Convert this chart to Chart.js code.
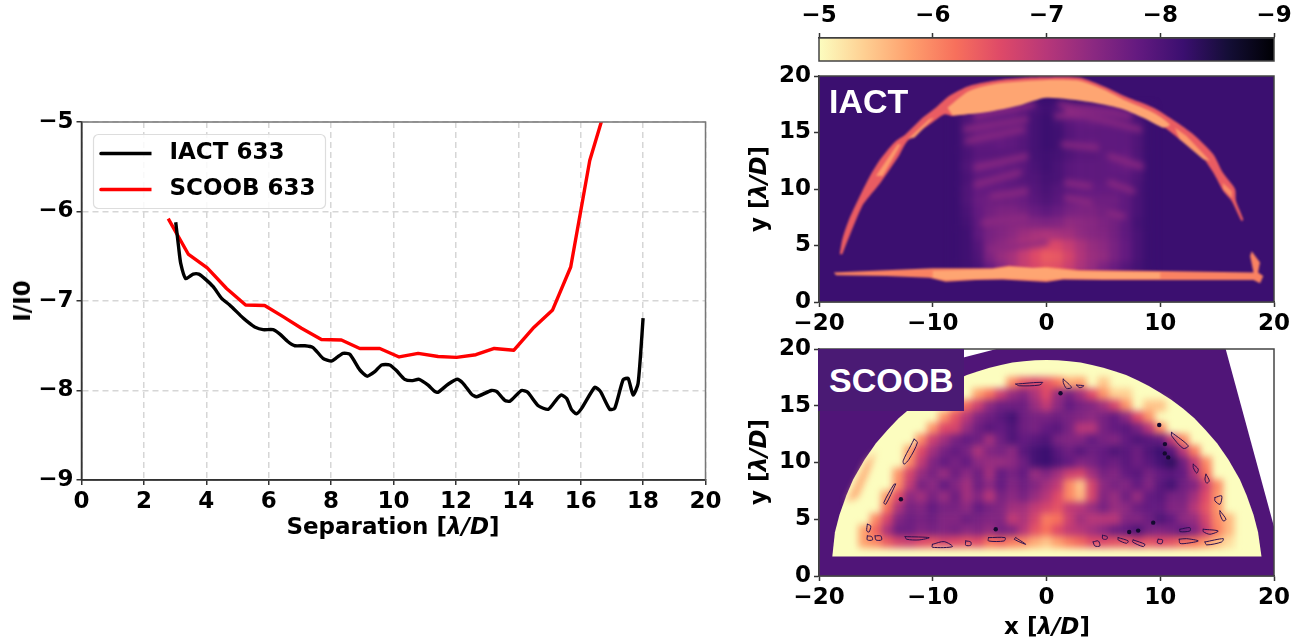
<!DOCTYPE html>
<html><head><meta charset="utf-8">
<script src="https://cdn.jsdelivr.net/npm/chart.js@4/dist/chart.umd.min.js"></script>
<style>
html,body{margin:0;padding:0;background:#fff;width:1308px;height:642px;overflow:hidden}
canvas{position:absolute;left:0;top:0}
.t{position:absolute;font:bold 23px "DejaVu Sans";color:#000;white-space:nowrap;transform:translate(-50%,-50%)}
.r{transform:translate(-50%,-50%) rotate(-90deg)}
.t i{font-style:italic}
.tag{position:absolute;font:bold 34px "Liberation Sans";color:#fff;line-height:1;white-space:nowrap}
</style></head><body>
<canvas id="c1" width="1308" height="642"></canvas>
<canvas id="c2" width="1308" height="642"></canvas>
<canvas id="c3" width="1308" height="642"></canvas>
<canvas id="c3glow" width="1308" height="642" style="filter:blur(3.4px)"></canvas>
<canvas id="c3arc" width="1308" height="642" style="filter:blur(.9px)"></canvas>
<canvas id="c4" width="1308" height="642"></canvas>
<canvas id="c4glow" width="1308" height="642" style="filter:blur(3.6px)"></canvas>
<canvas id="c4line" width="1308" height="642" style="filter:blur(.35px)"></canvas>
<div class="t" style="left:393px;top:526px">Separation [<i>λ/D</i>]</div>
<div class="t r" style="left:22px;top:301px">I/I0</div>
<div class="t r" style="left:758px;top:189px">y [<i>λ/D</i>]</div>
<div class="t r" style="left:758px;top:462px">y [<i>λ/D</i>]</div>
<div class="t" style="left:1047px;top:626px">x [<i>λ/D</i>]</div>
<div style="position:absolute;left:818px;top:349px;width:146px;height:62px;background:#4a1a74"></div>
<div class="tag" style="left:829px;top:84px">IACT</div>
<div class="tag" style="left:829px;top:363px">SCOOB</div>
<script>
// ---------- line chart values ----------
const iactX=[3.02,3.11,3.18,3.34,3.58,3.76,3.95,4.22,4.49,4.75,5.18,5.39,5.55,5.82,6.14,6.36,6.62,6.84,7.16,7.42,7.74,8.01,8.19,8.38,8.6,8.92,9.15,9.4,9.62,9.88,10.1,10.36,10.58,10.82,11.11,11.32,11.43,11.75,12.04,12.23,12.5,12.66,13.14,13.3,13.57,13.73,14.1,14.3,14.64,14.96,15.25,15.38,15.55,15.7,15.86,16.03,16.45,16.63,16.93,17.09,17.36,17.52,17.68,17.84,18.0];
const iactY=[-6.12,-6.39,-6.58,-6.75,-6.70,-6.70,-6.75,-6.84,-6.97,-7.045,-7.19,-7.25,-7.29,-7.32,-7.32,-7.37,-7.455,-7.50,-7.50,-7.52,-7.64,-7.67,-7.63,-7.585,-7.595,-7.77,-7.84,-7.79,-7.715,-7.715,-7.78,-7.875,-7.89,-7.875,-7.94,-8.01,-8.02,-7.93,-7.875,-7.92,-8.04,-8.07,-8.0,-8.01,-8.11,-8.12,-8.0,-8.02,-8.17,-8.21,-8.09,-8.05,-8.09,-8.21,-8.26,-8.2,-7.965,-8.01,-8.21,-8.2,-7.88,-7.865,-8.05,-7.92,-7.19];
const scoobX=[2.78,3.42,4.03,4.65,5.26,5.87,6.46,7.05,7.69,8.33,8.92,9.56,10.18,10.79,11.43,12.02,12.64,13.23,13.86,14.47,15.1,15.68,16.29,16.9];
const scoobY=[-6.08,-6.475,-6.63,-6.86,-7.045,-7.05,-7.175,-7.305,-7.43,-7.435,-7.53,-7.53,-7.625,-7.585,-7.62,-7.63,-7.60,-7.53,-7.55,-7.305,-7.10,-6.62,-5.43,-4.72];
const sepTicks=[0,2,4,6,8,10,12,14,16,18,20];
const contrastTicks=[-9,-8,-7,-6,-5];
const panelXTicks=[-20,-10,0,10,20];
const panelYTicks=[0,5,10,15,20];
const barRange=[-9,-5];
const barTicks=[-5,-6,-7,-8,-9];

// ---------- colour scale ----------
const magma=['#000004','#140e36','#3b0f70','#641a80','#8c2981','#b73779','#de4968','#f7705c','#fe9f6d','#fecf92','#fcfdbf'];
function hex(s){return [1,3,5].map(i=>parseInt(s.substr(i,2),16));}
function col(v){
  let t=Math.max(0,Math.min(1,(v+9)/4))*10,i=Math.min(9,Math.floor(t)),f=t-i,a=hex(magma[i]),b=hex(magma[i+1]);
  return 'rgb('+a.map((c,k)=>Math.round(c+(b[k]-c)*f)).join(',')+')';
}

// ---------- IACT image values ----------
const iactCols=[-8,-7,-6,-5,-4,-3,-2,-1,0,1,2,3,4,5,6,7,8,9];
const iactRows=[17,16,15,14,13,12,11,10,9,8,7,6,5,4,3];
const iactGrid=[
[-8.2,-8.0,-7.85,-7.8,-7.8,-7.8,-7.9,-8.05,-8.15,-8.05,-7.9,-7.8,-7.8,-7.8,-7.8,-7.9,-8.05,-8.2],
[-8.2,-8.0,-7.85,-7.85,-7.85,-7.85,-7.95,-8.1,-8.2,-8.1,-7.9,-7.8,-7.75,-7.8,-7.85,-7.9,-8.05,-8.2],
[-8.2,-8.0,-7.8,-7.8,-7.85,-7.85,-7.9,-8.1,-8.2,-8.15,-7.95,-7.85,-7.85,-7.85,-7.85,-7.85,-8.0,-8.2],
[-8.2,-8.0,-7.85,-7.85,-7.8,-7.85,-7.95,-8.1,-8.2,-8.15,-7.95,-7.85,-7.8,-7.85,-7.85,-7.85,-8.0,-8.2],
[-8.2,-8.05,-7.9,-7.9,-7.9,-7.9,-7.95,-8.1,-8.15,-8.1,-8.0,-7.9,-7.9,-7.85,-7.85,-7.8,-8.0,-8.2],
[-8.2,-8.0,-7.8,-7.8,-7.8,-7.85,-7.9,-8.05,-8.15,-8.05,-7.9,-7.85,-7.85,-7.85,-7.8,-7.75,-7.9,-8.2],
[-8.2,-8.05,-7.85,-7.85,-7.85,-7.85,-7.95,-8.0,-8.1,-8.05,-7.9,-7.85,-7.85,-7.85,-7.85,-7.85,-8.0,-8.2],
[-8.2,-8.0,-7.8,-7.8,-7.8,-7.85,-7.85,-7.95,-8.05,-7.95,-7.85,-7.8,-7.8,-7.8,-7.8,-7.85,-8.05,-8.2],
[-8.2,-8.0,-7.75,-7.7,-7.7,-7.7,-7.75,-7.9,-8.0,-7.9,-7.75,-7.7,-7.7,-7.7,-7.7,-7.85,-8.05,-8.2],
[-8.2,-8.05,-7.8,-7.65,-7.55,-7.55,-7.65,-7.75,-7.85,-7.75,-7.6,-7.55,-7.55,-7.65,-7.75,-7.85,-8.05,-8.2],
[-8.2,-8.1,-7.85,-7.55,-7.5,-7.45,-7.45,-7.5,-7.55,-7.5,-7.35,-7.4,-7.45,-7.55,-7.65,-7.85,-8.1,-8.2],
[-8.2,-8.15,-7.85,-7.6,-7.5,-7.4,-7.25,-7.15,-7.1,-7.15,-7.2,-7.35,-7.45,-7.5,-7.65,-7.85,-8.05,-8.2],
[-8.2,-8.15,-7.95,-7.55,-7.4,-7.25,-7.0,-6.75,-6.6,-6.65,-6.85,-7.1,-7.3,-7.4,-7.6,-7.8,-8.05,-8.2],
[-8.2,-8.15,-8.0,-7.55,-7.3,-7.15,-6.85,-6.6,-6.4,-6.45,-6.7,-7.05,-7.25,-7.35,-7.6,-7.8,-8.05,-8.2],
[-8.2,-8.15,-8.05,-7.75,-7.45,-7.15,-6.85,-6.65,-6.5,-6.55,-6.8,-7.1,-7.3,-7.55,-7.75,-7.95,-8.1,-8.2]];
const iactBackground=-8.2;
const iactFringes=[
[[-6.2,16.46],[-1.2,17.5]],[[-7.1,15.28],[-1.8,16.16]],[[-6.95,14.25],[-2.1,15.28]],[[-6.2,11.9],[-1.8,12.9]],
[[-6.2,10.4],[-2.4,11.45]],[[-4.75,9.38],[-1.8,9.82]],[[-5.6,7],[-1.8,7.6]],[[-5,4.66],[0,5.25]],
[[1.2,17.5],[7.3,16.46]],[[1.76,16.9],[8.2,15.28]],[[0.9,16.46],[3.2,16.46]],[[1.47,13.95],[4.4,13.66]],
[[5.57,12.9],[8.36,12]],[[5.57,10.56],[7.6,9.82]],[[1.76,10.56],[3.8,10.27]],[[1.76,9.23],[3.8,8.8]],[[5.57,7.9],[6.74,7.6]]];
const iactArc=[[-18.18,4.22],[-17.95,5.55],[-17.36,7.3],[-16.33,9.53],[-15.6,11],[-14.72,12.48],[-13.4,14.1],[-12.38,14.84],[-10.9,16.3],[-9.74,17.2],[-8.56,18.23],[-6.8,19.12],[-4.16,19.65],[-1.82,19.85],[0.06,19.9],[2.93,19.85],[5,19.1],[7,18.17],[9.4,17.2],[11.3,16],[12.9,14.84],[14.66,13.07],[15.5,11.45],[16.57,10],[16.66,8.94],[17.3,7.3],[17.15,7.17],[16.28,8.94],[15.54,9.82],[14.66,11.45],[13.5,13.07],[11.73,14.4],[10.4,15.43],[8.5,16.46],[6.45,17.35],[3.8,17.85],[0,18.17],[-2.4,17.5],[-5.34,16.9],[-8.27,16.46],[-9,16.6],[-10.3,15.7],[-12.23,14.25],[-13,12.9],[-14.6,10.56],[-15.3,9.68],[-16.2,8.5],[-17.2,6.14],[-17.95,4.22]];
const iactArcTop=[[-8.7,17.2],[-6.8,18.67],[-4.16,19.35],[0.06,19.65],[2.93,19.56],[5,18.8],[7,17.8],[9.4,16.75],[10.85,15.7],[10.26,15.43],[8.5,16.3],[6.45,17.14],[3.8,17.7],[0,18.08],[-2.4,17.4],[-5.34,16.8],[-8.27,16.5]];
const iactArcLeftA=[[-12.2,14.4],[-10.3,16.2],[-9.9,16.3],[-11.6,14.55]];
const iactArcLeftB=[[-15,11.15],[-13.1,13.95],[-12.8,13.95],[-14.4,11.15]];
const iactArcRightA=[[11.3,15.43],[12.3,14.7],[14.37,12.5],[13.8,12.6],[11.7,14.4]];
const iactArcRightB=[[15.5,10.56],[16.3,9.8],[16.3,9.2],[15.5,10]];
const iactStrip=[[-18.7,2.6],[-14.1,2.8],[-10,2.98],[-4.75,2.98],[-3.3,3.2],[-1.2,3.04],[0,3.13],[2.9,2.83],[10,2.74],[18.2,2.6],[17.9,4.07],[18.04,4.5],[18.77,3.5],[18.6,2.6],[19.06,2.3],[18.77,1.65],[18.2,1.95],[10,1.95],[5,1.95],[1.47,2],[0,1.77],[-3.87,2],[-6.2,1.95],[-8.86,1.8],[-10.3,2.15],[-14.1,2.3],[-18.5,2.36]];
const iactStripCore=[[-10,2.75],[-4.75,2.9],[-3.3,3.1],[-1.2,3],[0,3],[2.9,2.7],[10,2.6],[10,2.05],[5,2.05],[1.47,2.1],[0,1.95],[-3.87,2.1],[-6.2,2.05],[-8.86,1.95],[-10,2.15]];

// ---------- SCOOB image values ----------
const _=null;
const scoobCols=[-16,-15,-14,-13,-12,-11,-10,-9,-8,-7,-6,-5,-4,-3,-2,-1,0,1,2,3,4,5,6,7,8,9,10,11,12,13,14,15,16];
const scoobRows=[17,16,15,14,13,12,11,10,9,8,7,6,5,4,3];
const scoobGrid=[
[_,_,_,_,_,_,_,_,_,_,_,_,_,-6.0,-6.5,-6.7,-6.5,-6.2,-5.7,-5.8,_,-5.5,_,_,_,_,_,_,_,_,_,_,_],
[_,_,_,_,_,_,_,_,_,_,-5.8,-6.2,-6.8,-7.3,-7.5,-7.1,-6.6,-7.3,-7.6,-7.2,-6.6,-5.9,-5.4,-5.4,_,_,_,_,_,_,_,_,_],
[_,_,_,_,_,_,_,_,-5.8,-6.3,-6.8,-7.4,-7.7,-7.7,-7.7,-7.3,-6.9,-7.4,-7.8,-7.6,-7.5,-7.2,-6.7,-5.9,_,-5.5,-5.5,_,_,_,_,_,_],
[_,_,_,_,_,_,_,-5.9,-6.5,-7.0,-7.5,-7.7,-7.9,-8.1,-7.7,-7.6,-7.6,-7.7,-7.6,-7.5,-7.4,-7.6,-7.8,-7.4,-6.6,-5.9,_,_,_,_,_,_,_],
[_,_,_,_,_,_,-5.9,-6.6,-6.7,-7.3,-7.7,-7.9,-7.8,-8.0,-7.7,-7.6,-7.8,-7.9,-7.6,-7.0,-7.0,-7.6,-7.8,-7.9,-7.6,-7.0,-6.0,_,_,_,_,_,_],
[_,_,_,_,_,-6.0,-6.8,-7.2,-7.6,-7.8,-7.7,-7.2,-7.7,-8.0,-7.8,-7.9,-8.0,-7.6,-7.5,-7.5,-7.8,-7.6,-7.5,-7.8,-8.0,-7.9,-7.8,-6.9,-6.0,_,_,_,_],
[_,_,_,_,-5.8,-6.6,-7.2,-7.6,-7.8,-7.6,-7.1,-7.5,-7.6,-7.4,-7.9,-8.1,-8.2,-7.9,-7.7,-7.9,-7.7,-7.8,-8.0,-7.9,-7.7,-8.0,-8.2,-7.9,-7.0,-6.1,_,_,_],
[_,_,_,_,-6.0,-6.9,-7.5,-7.8,-7.6,-7.8,-7.4,-7.3,-7.3,-7.4,-7.7,-8.1,-8.2,-8.0,-7.8,-7.5,-7.6,-7.8,-7.7,-7.9,-7.7,-7.9,-8.1,-8.3,-7.7,-6.9,-6.0,_,_],
[_,_,_,-5.9,-6.7,-7.3,-7.6,-7.3,-7.7,-7.4,-7.7,-7.2,-7.8,-7.6,-7.8,-7.3,-7.5,-7.2,-6.8,-6.7,-7.2,-7.6,-7.5,-7.8,-7.9,-7.6,-7.8,-7.9,-7.8,-7.1,-6.2,_,_],
[_,_,_,-6.0,-6.9,-7.6,-7.4,-7.8,-7.5,-7.2,-7.7,-7.4,-7.8,-7.5,-7.7,-7.5,-7.2,-6.9,-6.0,-5.5,-6.7,-7.4,-7.6,-7.5,-7.8,-7.5,-7.9,-8.1,-7.7,-7.5,-6.8,-6.0,_],
[_,_,-5.9,-6.6,-7.4,-7.2,-7.6,-7.3,-7.7,-7.2,-7.5,-7.0,-7.6,-7.4,-7.6,-7.3,-7.0,-6.6,-6.0,-5.6,-6.7,-7.5,-7.3,-7.7,-7.3,-7.8,-7.9,-7.6,-7.6,-7.2,-6.6,-5.9,_],
[_,_,-6.2,-7.1,-7.6,-7.5,-7.8,-7.6,-7.6,-7.4,-7.8,-7.6,-7.5,-7.2,-7.2,-6.9,-6.7,-6.5,-6.9,-7.0,-7.3,-7.6,-7.3,-7.4,-7.7,-7.8,-7.8,-7.5,-7.5,-7.0,-6.5,-5.9,_],
[_,-6.0,-6.7,-7.5,-7.7,-7.6,-7.7,-7.5,-7.5,-7.7,-7.6,-7.5,-7.5,-6.9,-7.1,-6.7,-6.1,-6.2,-6.8,-7.2,-7.0,-7.0,-7.0,-7.5,-7.5,-7.7,-8.0,-7.8,-7.4,-7.3,-6.7,-6.0,-5.6],
[-5.8,-6.3,-7.1,-7.7,-7.7,-7.5,-7.6,-7.5,-7.6,-7.4,-7.5,-7.3,-7.6,-7.5,-7.0,-6.5,-6.2,-6.6,-6.9,-7.0,-7.2,-7.4,-7.7,-7.8,-8.0,-7.6,-7.5,-7.6,-7.8,-7.5,-6.9,-6.1,-5.6],
[-5.8,-6.0,-6.4,-6.7,-6.8,-6.6,-6.5,-6.7,-6.6,-6.5,-6.6,-6.2,-6.3,-6.1,-6.0,-5.7,-5.5,-5.8,-6.1,-6.3,-6.6,-6.6,-6.5,-6.5,-6.7,-6.5,-6.6,-6.5,-6.3,-6.2,-5.9,-5.6,-5.3]];
const scoobBackground=-8.0;
const scoobSaturated=-5.0;
const scoobDome=[[-18.83,1.72],[-18.6,3.85],[-18.2,5.4],[-17.6,7.1],[-17,8.5],[-16,10.25],[-15,11.7],[-14,12.85],[-13,13.9],[-12,14.75],[-11,15.5],[-10,16.15],[-9,16.75],[-8,17.25],[-7,17.7],[-6,18.05],[-5,18.35],[-4,18.6],[-3,18.8],[-2,18.93],[-1,19],[0,19.03],[1,19],[2,18.93],[3,18.8],[4,18.6],[5,18.35],[6,18.05],[7,17.7],[8,17.25],[9,16.75],[10,16.15],[11,15.5],[12,14.75],[13,13.9],[14,12.85],[15,11.7],[16,10.25],[17,8.5],[17.6,7.1],[18.2,5.4],[18.6,3.85],[18.9,1.72]];
const scoobWedgeRight=[[15.75,20],[20,4.35],[20,20]];
const scoobWedgeTop=[[-4.4,20],[-7.3,19.25],[-7.3,20]];
const scoobStreak=[[-17.6,6.5],[-16.6,6.9],[-15.6,9.2],[-15.0,11],[-15.9,10]];
const scoobContours=[
[[-11.64,12.06],[-11.35,11.76],[-12.08,10.29],[-12.52,9.85],[-12.6,10.15],[-11.94,11.47]],
[[-13.26,8.09],[-14.13,6.32],[-14.3,6.47],[-13.4,8.09]],
[[-15.75,4.56],[-15.45,4.41],[-15.6,3.88],[-15.8,3.97]],
[[-15.75,3.53],[-15.37,3.47],[-15.3,3.18],[-15.75,3.18]],
[[-15.07,3.53],[-14.57,3.53],[-14.5,3.18],[-15,3.18]],
[[-12.43,3.47],[-10.32,3.38],[-11.2,3.18],[-12.3,3.24]],
[[-10.03,2.79],[-9,3.03],[-8.27,2.59],[-10.03,2.53]],
[[-7.1,3.09],[-6.66,3],[-6.66,2.71],[-7.1,2.71]],
[[-5.1,3.38],[-3.64,3.38],[-3.72,3.09],[-5.1,3.09]],
[[-2.7,3.38],[-1.82,2.79],[-2.84,3.24]],
[[-2.7,16.91],[-0.35,17.06],[-0.65,16.82],[-2.4,16.76]],
[[11,12.65],[12.46,11.47],[12.02,11.24],[11,12.35]],
[[12.9,9.85],[13.34,9.41],[13.2,9.06],[12.9,9.56]],
[[14.02,8.97],[14.31,8.38],[14.08,8.18],[13.93,8.53]],
[[14.81,6.91],[15.4,7.06],[15.25,6.32],[14.81,6.62]],
[[15.25,5.74],[15.78,5],[15.54,4.85],[15.25,5.44]],
[[11.73,4.12],[12.61,4.26],[12.61,3.97],[11.73,3.91]],
[[13.78,4.12],[15.1,3.97],[14.37,3.68],[13.78,3.91]],
[[13.93,3],[15.54,3.29],[15.4,3],[14.08,2.74]],
[[11.67,3.24],[12.32,3.29],[13.34,3.09],[12.32,2.88],[11.73,2.88]],
[[9.82,3.24],[10.2,3.18],[10.12,2.85],[9.74,2.94]],
[[7.62,3.18],[8.65,2.79],[8.5,2.59],[7.57,3]],
[[6.3,3.38],[7.18,3.09],[7.04,2.88],[6.3,3.18]],
[[4.1,3],[4.55,3.09],[4.69,2.65],[4.25,2.65]],
[[4.93,3.59],[5.34,3.47],[5.28,3.24],[4.93,3.29]],
[[1.47,17.35],[2.2,16.62],[1.76,16.53],[1.47,17.06]],
[[2.64,16.82],[3.28,16.76],[2.93,16.59]]];
const scoobDarkX=[10.41,10.4,10.7,9.38,8.06,7.27,1.23,9.91,-4.46,-12.8];
const scoobDarkY=[11.62,10.8,10.45,4.7,4.0,3.88,16.1,13.3,4.12,6.76];

// ---------- helpers ----------
const W=1308,H=642;
const toPts=a=>a.map(p=>({x:p[0],y:p[1]}));
function cells(cols,rows,grid){
  const out=[];
  rows.forEach((y,r)=>cols.forEach((x,c)=>{if(grid[r][c]!==null)out.push({x,y,v:grid[r][c]});}));
  return out;
}
function poly(pts,color,curve){
  return {data:toPts(pts),showLine:true,fill:'shape',backgroundColor:color,borderColor:color,borderWidth:0,pointRadius:0,tension:curve||0};
}
function stroke(pts,color,width,closed){
  return {data:toPts(closed?pts.concat([pts[0]]):pts),showLine:true,fill:false,borderColor:color,borderWidth:width,borderCapStyle:'round',borderJoinStyle:'round',pointRadius:0,tension:closed?0.3:0};
}
const tickFont={family:'"DejaVu Sans"',size:23,weight:'bold'};
const minus=v=>String(v).replace('-','\u2212');
function axis(ticks,min,max,fixed,extra){
  return Object.assign({type:'linear',min,max,
    afterBuildTicks:s=>{s.ticks=ticks.map(value=>({value}));},
    afterFit:fixed,
    ticks:{font:tickFont,color:'#000',padding:3,maxRotation:0,autoSkip:false,callback:minus},
    border:{color:'#333',width:1.5},
    grid:{drawOnChartArea:false,tickLength:5,tickColor:'#333',tickWidth:1.5}},extra||{});
}
function frame(color){
  return {id:'frame',afterDraw(c){const a=c.chartArea,x=c.ctx;x.save();x.strokeStyle=color;x.lineWidth=1.5;x.strokeRect(a.left,a.top,a.width,a.height);x.restore();}};
}
Chart.defaults.animation=false;Chart.defaults.responsive=false;Chart.defaults.devicePixelRatio=1;
const quiet={legend:{display:false},tooltip:{enabled:false}};
function ordered(layers){layers.forEach((d,i)=>{d.order=layers.length-i;});return layers;}

function panel(id,box,bgValue,layers){
  const [l,t,r,b]=box;
  return new Chart(document.getElementById(id),{type:'scatter',
    data:{datasets:ordered(layers)},
    options:{layout:{padding:{left:0,top:t,right:W-r,bottom:0}},plugins:quiet,
      scales:{
        x:axis(panelXTicks,-20,20,s=>{s.height=H-b;}),
        y:axis(panelYTicks,0,20,s=>{s.width=l;})}},
    plugins:[{id:'bg',beforeDatasetsDraw(c){const a=c.chartArea;c.ctx.save();c.ctx.fillStyle=col(bgValue);c.ctx.fillRect(a.left,a.top,a.width,a.height);c.ctx.restore();}},frame('#444')]
  });
}
function overlay(id,box,layers){
  const [l,t,r,b]=box;
  return new Chart(document.getElementById(id),{type:'scatter',
    data:{datasets:ordered(layers)},
    options:{layout:{padding:{left:l,top:t,right:W-r,bottom:H-b}},plugins:quiet,
      scales:{x:{type:'linear',min:-20,max:20,display:false},y:{type:'linear',min:0,max:20,display:false}}}
  });
}
function cellLayer(pts){
  return {data:pts,pointStyle:'rect',borderWidth:0,
    backgroundColor:c=>col(c.raw.v),
    pointRadius:c=>{const s=c.chart.scales.x;return s.width/40*1.04/Math.SQRT2;},
    pointHoverRadius:0};
}

// ---------- line chart ----------
const dashedGrid={grid:{drawOnChartArea:true,color:'#d6d6d6',lineWidth:1.5,tickLength:5,tickColor:'#333',tickWidth:1.5},border:{color:'#333',width:1.5,dash:[6,4]}};
const sep=new Chart(document.getElementById('c1'),{type:'scatter',
  data:{datasets:[
    {label:'IACT 633',data:iactX.map((x,i)=>({x,y:iactY[i]})),showLine:true,borderColor:'#000',backgroundColor:'#000',borderWidth:3.4,borderJoinStyle:'round',pointRadius:0,tension:0.2,order:1},
    {label:'SCOOB 633',data:scoobX.map((x,i)=>({x,y:scoobY[i]})),showLine:true,borderColor:'#f00',backgroundColor:'#f00',borderWidth:3.4,borderJoinStyle:'round',pointRadius:0,tension:0,order:2}]},
  options:{layout:{padding:{left:0,top:122,right:W-705.5,bottom:0}},
    plugins:{tooltip:{enabled:false},
      legend:{position:'chartArea',align:'start',
        labels:{boxWidth:57,boxHeight:0.3,padding:13,color:'#000',font:{family:'"DejaVu Sans"',size:23,weight:'bold'}}}},
    scales:{
      x:axis(sepTicks,0,20,s=>{s.height=H-480;},dashedGrid),
      y:axis(contrastTicks,-9,-5,s=>{s.width=81.5;},dashedGrid)}},
  plugins:[{id:'frameLine',afterDraw(c){const a=c.chartArea,x=c.ctx;x.save();x.lineWidth=1.5;
    x.strokeStyle='#777';x.beginPath();x.moveTo(a.left,a.top);x.lineTo(a.right,a.top);x.lineTo(a.right,a.bottom);x.stroke();
    x.strokeStyle='#333';x.beginPath();x.moveTo(a.left,a.top);x.lineTo(a.left,a.bottom);x.lineTo(a.right,a.bottom);x.stroke();x.restore();}}]
});
(function(){ // legend frame and placement
  const leg=sep.legend,draw=leg.draw.bind(leg);
  leg.draw=function(){const x=sep.ctx;x.save();
    x.beginPath();x.roundRect(93.5,134.5,232,74,5);x.fillStyle='rgba(255,255,255,.85)';x.fill();x.strokeStyle='#ddd';x.lineWidth=1.2;x.stroke();
    x.save();x.translate(101-leg.legendHitBoxes[0].left,153.5-(leg.legendHitBoxes[0].top+leg.legendHitBoxes[0].height/2));draw();x.restore();
    x.fillStyle='#fff';x.fillRect(151.5,140,11,60);
    x.restore();};
  sep.draw();
})();

// ---------- colour bar ----------
new Chart(document.getElementById('c2'),{type:'bar',
  data:{labels:['I/I0'],datasets:[{data:[barRange],barPercentage:1,categoryPercentage:1,
    backgroundColor:c=>{const ch=c.chart;if(!ch.chartArea)return '#000';const s=ch.scales.x;
      const g=ch.ctx.createLinearGradient(s.getPixelForValue(-5),0,s.getPixelForValue(-9),0);
      magma.slice().reverse().forEach((m,i)=>g.addColorStop(i/10,m));return g;}}]},
  options:{indexAxis:'y',layout:{padding:{left:819,top:0,right:W-1274,bottom:H-61}},plugins:quiet,
    scales:{
      x:axis(barTicks,-9,-5,s=>{s.height=38;},{position:'top',reverse:true}),
      y:{display:false}}},
  plugins:[frame('#444')]
});

// ---------- IACT panel ----------
const iactBox=[819,76,1274,302];
panel('c3',iactBox,iactBackground,[]);
overlay('c3glow',iactBox,[cellLayer(cells(iactCols,iactRows,iactGrid))].concat(iactFringes.map(f=>stroke(f,col(-7.4),5.5))));
overlay('c3arc',iactBox,[
  poly(iactArc,col(-6.4),0.25),poly(iactArcTop,col(-5.75),0.25),poly(iactArcLeftA,col(-5.85)),poly(iactArcLeftB,col(-5.85)),poly(iactArcRightA,col(-5.85)),poly(iactArcRightB,col(-5.95)),
  poly(iactStrip,col(-6.05)),poly(iactStripCore,col(-5.75))]);

// ---------- SCOOB panel ----------
const scoobBox=[819,349,1274,576];
panel('c4',scoobBox,scoobBackground,[
  poly(scoobWedgeRight,'#fff'),poly(scoobWedgeTop,'#fff'),
  poly(scoobDome,col(scoobSaturated))]);
overlay('c4glow',scoobBox,[cellLayer(cells(scoobCols,scoobRows,scoobGrid)),poly(scoobStreak,col(-5.7))]);
overlay('c4line',scoobBox,scoobContours.map(f=>stroke(f,'#2a1050',1,true)).concat([
  {data:scoobDarkX.map((x,i)=>({x,y:scoobDarkY[i]})),pointRadius:2.2,borderWidth:0,backgroundColor:'#140a30'}]));
</script>
</body></html>
